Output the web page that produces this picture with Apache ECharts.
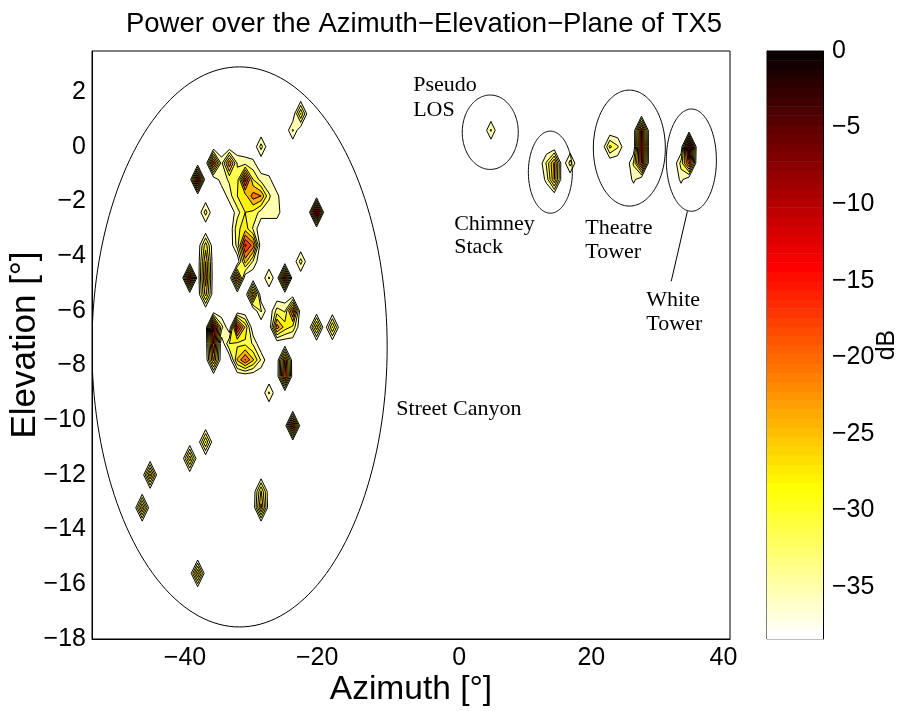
<!DOCTYPE html>
<html><head><meta charset="utf-8">
<script src="https://cdn.jsdelivr.net/npm/echarts@6/dist/echarts.min.js"></script>
<style>html,body{margin:0;padding:0;background:#fff}#c{width:897px;height:711px}</style>
</head><body><div id="c"></div>
<script>
// ---------------- data ----------------
// measurement grid spacing (deg) and noise floor (dB)
const azStep = 1.2, elStep = 0.6;
const noiseFloorDb = -38.4;
// grid nodes above the floor: [azimuth, elevation, power dB]
const streetCanyonNodes = [
  [-24, 1.2, -24], [-25.2, 0.6, -31], [-30, 0, -30],
  [-37.2, -0.6, -15], [-39.6, -1.2, -10], [-34.8, -0.6, -18],
  [-36, -0.6, -33], [-36, -1.2, -33], [-34.8, -1.2, -31], [-33.6, -0.6, -32], [-33.6, -1.2, -30],
  [-32.4, -0.6, -33], [-32.4, -1.2, -12], [-31.2, -0.6, -34], [-31.2, -1.2, -28], [-30, -1.2, -33], [-28.8, -1.2, -34],
  [-34.8, -1.8, -33], [-33.6, -1.8, -28], [-32.4, -1.8, -26], [-31.2, -1.8, -19], [-30, -1.8, -21], [-28.8, -1.8, -31], [-27.6, -1.8, -34],
  [-33.6, -2.4, -33], [-32.4, -2.4, -28], [-31.2, -2.4, -29], [-30, -2.4, -33], [-28.8, -2.4, -33], [-27.6, -2.4, -33],
  [-33.6, -3.0, -29], [-32.4, -3.0, -26], [-31.2, -3.0, -32],
  [-33.6, -3.6, -30], [-32.4, -3.6, -13], [-31.2, -3.6, -19], [-32.4, -4.2, -23], [-31.2, -4.2, -32],
  [-33.6, -4.8, -16], [-38.4, -2.4, -30], [-21.6, -2.4, -8], [-24, -4.2, -30],
  [-38.4, -3.6, -26], [-38.4, -4.2, -21], [-38.4, -4.8, -19], [-38.4, -5.4, -23],
  [-40.8, -4.8, -10], [-26.4, -4.8, -12], [-28.8, -4.8, -31],
  [-31.2, -5.4, -18], [-30, -6.0, -31],
  [-27.6, -6.0, -30], [-26.4, -6.0, -32], [-25.2, -6.0, -16], [-27.6, -6.6, -19], [-26.4, -6.6, -26], [-25.2, -6.6, -29],
  [-21.6, -6.6, -22], [-19.2, -6.6, -24],
  [-37.2, -6.6, -9], [-37.2, -7.2, -14], [-37.2, -7.8, -20], [-36, -6.6, -30],
  [-33.6, -6.6, -12], [-32.4, -6.6, -25], [-34.8, -7.2, -28], [-33.6, -7.2, -29],
  [-32.4, -7.8, -17], [-33.6, -7.8, -24], [-31.2, -7.8, -24], [-30, -7.8, -32], [-32.4, -7.2, -29], [-31.2, -7.2, -32],
  [-26.4, -7.8, -17], [-26.4, -8.4, -14], [-28.8, -9.0, -31], [-25.2, -10.2, -12],
  [-40.8, -11.4, -22], [-38.4, -10.8, -24], [-46.8, -12.0, -20], [-48, -13.2, -20], [-39.6, -15.6, -20],
  [-30, -12.6, -24], [-30, -13.2, -20]
];
const pseudoLosNodes = [[4.8, 0.6, -31]];
const chimneyStackNodes = [[14.4, -0.6, -20], [14.4, -1.2, -21], [13.2, -0.6, -31], [13.2, -1.2, -34], [16.8, -0.6, -30]];
const theatreTowerNodes = [[22.8, 0, -27], [24, 0, -31], [27.6, 0.6, -14], [27.6, 0, -12], [27.6, -0.6, -14], [26.4, -0.6, -31], [26.4, -1.2, -34]];
const whiteTowerNodes = [[34.8, 0, -6], [34.8, -0.6, -16], [33.6, -0.6, -30], [33.6, -1.2, -34]];
const contourLevels = [-35, -31.5, -28, -24.5, -21, -17.5, -14, -10.5, -7, -3.5];

// axes
const azRange = [-55.6, 41];
const elRange = [-18, 3.5];
const colorRange = [-38.4, 0];
const azTicks = [-40, -20, 0, 20, 40];
const elTicks = [-18, -16, -14, -12, -10, -8, -6, -4, -2, 0, 2];
const dbTicks = [0, -5, -10, -15, -20, -25, -30, -35];

// annotations: ellipses [centerAz, centerEl, radiusAz, radiusEl]
const regionEllipses = [
  [-33.26, -7.32, 22.35, 10.24],
  [4.7, 0.53, 4.24, 1.36],
  [13.8, -0.93, 3.33, 1.5],
  [25.76, -0.05, 5.45, 2.12],
  [35.15, -0.49, 3.79, 1.87]
];
const pointerLine = [[34.55, -2.36], [32.1, -4.92]];
const labelTexts = ['Pseudo', 'LOS', 'Chimney', 'Stack', 'Theatre', 'Tower', 'White', 'Tower', 'Street Canyon'];
const labelAz = [-6.97, -6.97, -0.76, -0.76, 19.09, 19.09, 28.33, 28.33, -9.55];
const labelEl = [2.26, 1.34, -2.84, -3.68, -2.98, -3.86, -5.62, -6.5, -9.61];

// ---------------- helpers ----------------
function hotRgb(k) { // MATLAB hot(64), 1-based
  const r = Math.min(1, k / 24), g = Math.min(1, Math.max(0, (k - 24) / 24)), b = Math.min(1, Math.max(0, (k - 48) / 16));
  return 'rgb(' + Math.round(r * 255) + ',' + Math.round(g * 255) + ',' + Math.round(b * 255) + ')';
}
function colorForValue(v) {
  let r0 = Math.floor((v - colorRange[0]) / (colorRange[1] - colorRange[0]) * 64);
  r0 = Math.max(0, Math.min(63, r0));
  return hotRgb(64 - r0);
}
function buildGrid() {
  const nodes = [].concat(streetCanyonNodes, pseudoLosNodes, chimneyStackNodes, theatreTowerNodes, whiteTowerNodes);
  const iMin = -48, iMax = 36, jMin = -31, jMax = 7;
  const nx = iMax - iMin + 1, ny = jMax - jMin + 1;
  const Z = [];
  for (let j = 0; j < ny; j++) Z.push(new Array(nx).fill(noiseFloorDb));
  nodes.forEach(function (n) {
    const i = Math.round(n[0] / azStep) - iMin, j = Math.round(n[1] / elStep) - jMin;
    Z[j][i] = n[2];
  });
  return { Z: Z, nx: nx, ny: ny, iMin: iMin, jMin: jMin };
}
function contourLoops(G, L) {
  const Z = G.Z, pts = {}, adj = {}, segs = [];
  function ep(type, i, j) {
    const key = type + i + ',' + j;
    if (!pts[key]) {
      let a, b, bx, by;
      if (type === 'h') { a = Z[j][i]; b = Z[j][i + 1]; bx = i + 1; by = j; }
      else { a = Z[j][i]; b = Z[j + 1][i]; bx = i; by = j + 1; }
      const t = (L - a) / (b - a);
      pts[key] = [(G.iMin + i + t * (bx - i)) * azStep, (G.jMin + j + t * (by - j)) * elStep];
    }
    return key;
  }
  function addSeg(p, q) {
    const idx = segs.length; segs.push([p, q]);
    (adj[p] = adj[p] || []).push(idx); (adj[q] = adj[q] || []).push(idx);
  }
  for (let j = 0; j < G.ny - 1; j++) {
    for (let i = 0; i < G.nx - 1; i++) {
      const v00 = Z[j][i], v10 = Z[j][i + 1], v11 = Z[j + 1][i + 1], v01 = Z[j + 1][i];
      const a = v00 >= L, b = v10 >= L, c = v11 >= L, d = v01 >= L;
      if ((a && b && c && d) || (!a && !b && !c && !d)) continue;
      const B = a !== b ? ep('h', i, j) : null;
      const R = b !== c ? ep('v', i + 1, j) : null;
      const T = d !== c ? ep('h', i, j + 1) : null;
      const Lf = a !== d ? ep('v', i, j) : null;
      const cr = [B, R, T, Lf].filter(function (x) { return x; });
      if (cr.length === 2) addSeg(cr[0], cr[1]);
      else {
        const cHigh = (v00 + v10 + v11 + v01) / 4 >= L;
        const isoAC = cHigh ? !a : a;
        if (isoAC) { addSeg(B, Lf); addSeg(R, T); } else { addSeg(B, R); addSeg(T, Lf); }
      }
    }
  }
  const used = new Array(segs.length).fill(false), loops = [];
  for (let s = 0; s < segs.length; s++) {
    if (used[s]) continue;
    used[s] = true;
    const start = segs[s][0]; let cur = segs[s][1]; const loop = [start];
    let guard = 0;
    while (cur !== start && guard++ < 100000) {
      loop.push(cur);
      const cand = adj[cur].find(function (k) { return !used[k]; });
      if (cand === undefined) break;
      used[cand] = true;
      const sg = segs[cand]; cur = sg[0] === cur ? sg[1] : sg[0];
    }
    loops.push(loop.map(function (k) { return pts[k]; }));
  }
  return loops;
}

const G = buildGrid();
const polys = [];
contourLevels.forEach(function (L) {
  const col = colorForValue(L);
  contourLoops(G, L).forEach(function (lp) { polys.push({ pts: lp, color: col }); });
});

const bands = [];
for (let k = 0; k < 64; k++) {
  const lo = colorRange[0] + k * (colorRange[1] - colorRange[0]) / 64;
  bands.push([lo, lo + (colorRange[1] - colorRange[0]) / 64, hotRgb(64 - k)]);
}

const minusFmt = function (v) { return String(v).replace('-', '\u2212'); };
const xLabelFmt = function (v) { return v < 0 ? '{n|\u2212' + Math.abs(v) + '}' : '{p|' + v + '}'; };
const FONT = 'Liberation Sans';

const chart = echarts.init(document.getElementById('c'), null, { renderer: 'canvas' });
chart.setOption({
  animation: false,
  backgroundColor: '#fff',
  title: {
    text: 'Power over the Azimuth\u2212Elevation\u2212Plane of TX5',
    left: 419, top: 5, textAlign: 'center',
    textStyle: { fontFamily: FONT, fontSize: 27.5, fontWeight: 'normal', color: '#000' }
  },
  grid: [
    { left: 92, top: 51, width: 638, height: 588, show: true, borderColor: '#000', borderWidth: 1, backgroundColor: 'transparent', containLabel: false, outerBoundsMode: 'none' },
    { left: 767, top: 51, width: 56, height: 588, show: true, borderColor: '#000', borderWidth: 1, backgroundColor: 'transparent', containLabel: false, outerBoundsMode: 'none' }
  ],
  xAxis: [
    {
      gridIndex: 0, type: 'value', min: azRange[0], max: azRange[1],
      name: 'Azimuth [°]', nameLocation: 'middle', nameGap: 34, nameMoveOverlap: false,
      nameTextStyle: { fontFamily: FONT, fontSize: 33.5, color: '#000' },
      axisLine: { onZero: false, lineStyle: { color: '#000' } }, axisTick: { show: false }, splitLine: { show: false },
      axisLabel: {
        customValues: azTicks, formatter: xLabelFmt, fontFamily: FONT, fontSize: 25, color: '#000', margin: 7,
        rich: {
          n: { fontFamily: FONT, fontSize: 25, color: '#000', padding: [0, 20, 0, 0] },
          p: { fontFamily: FONT, fontSize: 25, color: '#000' }
        }
      }
    },
    { gridIndex: 1, type: 'value', min: 0, max: 1, show: false }
  ],
  yAxis: [
    {
      gridIndex: 0, type: 'value', min: elRange[0], max: elRange[1],
      name: 'Elevation [°]', nameLocation: 'middle', nameGap: 49, nameMoveOverlap: false,
      nameTextStyle: { fontFamily: FONT, fontSize: 35, color: '#000' },
      axisLine: { onZero: false, lineStyle: { color: '#000' } }, axisTick: { show: false }, splitLine: { show: false },
      axisLabel: { customValues: elTicks, formatter: minusFmt, fontFamily: FONT, fontSize: 25, color: '#000', margin: 6 }
    },
    {
      gridIndex: 1, type: 'value', position: 'right', min: colorRange[0], max: colorRange[1],
      name: 'dB', nameLocation: 'middle', nameGap: 52, nameRotate: 90, nameMoveOverlap: false,
      nameTextStyle: { fontFamily: FONT, fontSize: 25, color: '#000' },
      axisLine: { onZero: false, lineStyle: { color: '#000' } },
      axisTick: { customValues: dbTicks, inside: true, length: 5, lineStyle: { color: '#000' } },
      splitLine: { show: false },
      axisLabel: { customValues: dbTicks, formatter: minusFmt, fontFamily: FONT, fontSize: 25, color: '#000', margin: 9 }
    },
    {
      gridIndex: 1, type: 'value', position: 'left', min: colorRange[0], max: colorRange[1],
      axisLine: { onZero: false, lineStyle: { color: '#000' } },
      axisTick: { customValues: dbTicks, inside: true, length: 5, lineStyle: { color: '#000' } },
      axisLabel: { show: false }, splitLine: { show: false }
    }
  ],
  series: [
    {
      type: 'custom', xAxisIndex: 0, yAxisIndex: 0, clip: true, z: 2,
      data: polys.map(function (p) { return [p.pts[0][0], p.pts[0][1]]; }),
      renderItem: function (params, api) {
        const p = polys[params.dataIndex];
        return {
          type: 'polygon',
          shape: { points: p.pts.map(function (pt) { return api.coord(pt); }) },
          style: { fill: p.color, stroke: '#000', lineWidth: 1 }
        };
      }
    },
    {
      type: 'custom', xAxisIndex: 0, yAxisIndex: 0, clip: true, z: 3,
      data: regionEllipses,
      renderItem: function (params, api) {
        const c = api.coord([api.value(0), api.value(1)]);
        const s = api.size([api.value(2), api.value(3)]);
        const pts = [];
        for (let k = 0; k < 180; k++) {
          const t = k / 180 * Math.PI * 2;
          pts.push([c[0] + s[0] * Math.cos(t), c[1] + s[1] * Math.sin(t)]);
        }
        return { type: 'polygon', shape: { points: pts }, style: { fill: 'none', stroke: '#000', lineWidth: 1 } };
      }
    },
    {
      type: 'line', xAxisIndex: 0, yAxisIndex: 0, data: pointerLine, symbol: 'none', z: 3,
      lineStyle: { color: '#000', width: 1 }, silent: true
    },
    {
      type: 'custom', xAxisIndex: 0, yAxisIndex: 0, z: 4,
      data: labelTexts.map(function (t, i) { return [labelAz[i], labelEl[i]]; }),
      renderItem: function (params, api) {
        const c = api.coord([api.value(0), api.value(1)]);
        return {
          type: 'text', x: c[0], y: c[1],
          style: { text: labelTexts[params.dataIndex], fontFamily: 'Liberation Serif', fontSize: 22, fill: '#000', align: 'left', verticalAlign: 'middle' }
        };
      }
    },
    {
      type: 'custom', xAxisIndex: 1, yAxisIndex: 1, z: 2,
      data: bands.map(function (b) { return [0, b[0], b[1]]; }),
      renderItem: function (params, api) {
        const b = bands[params.dataIndex];
        const p1 = api.coord([0, b[1]]), p2 = api.coord([1, b[0]]);
        return { type: 'rect', shape: { x: p1[0], y: p1[1], width: p2[0] - p1[0], height: p2[1] - p1[1] + 0.5 }, style: { fill: b[2] } };
      }
    }
  ]
});
</script></body></html>
